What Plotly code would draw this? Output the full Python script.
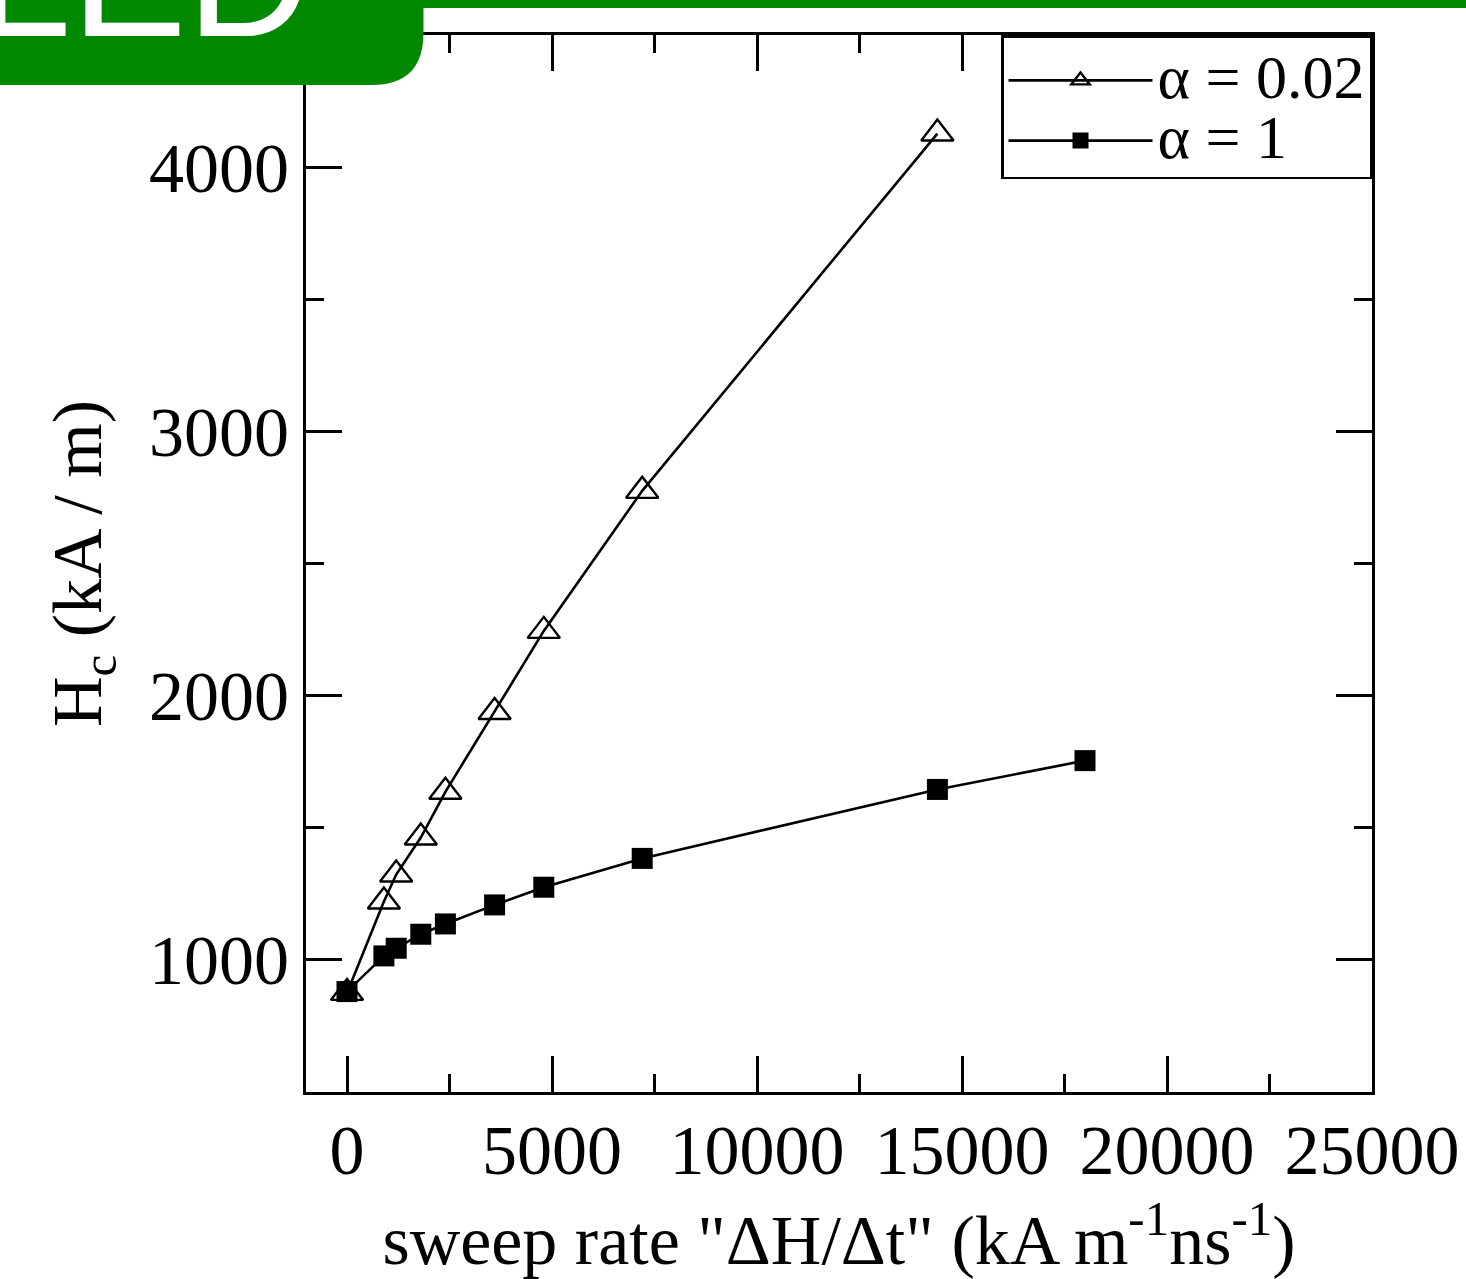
import plotly.graph_objects as go

# ---- data ----
rate_a002 = [0, 900, 1200, 1800, 2400, 3600, 4800, 7200, 14400]
hc_a002 = [875, 1221, 1323, 1463, 1636, 1938, 2245, 2775, 4127]

rate_a1 = [0, 900, 1200, 1800, 2400, 3600, 4800, 7200, 14400, 18000]
hc_a1 = [880, 1015, 1044, 1097, 1136, 1208, 1275, 1384, 1645, 1754]

x_tickvals = [0, 5000, 10000, 15000, 20000, 25000]
x_ticktext = ["0", "5000", "10000", "15000", "20000", "25000"]
y_tickvals = [1000, 2000, 3000, 4000]
y_ticktext = ["1000", "2000", "3000", "4000"]

series_names = ["\u03b1 = 0.02", "\u03b1 = 1"]

# ---- layout geometry (pixels) ----
W, H = 1466, 1279
L, R, T, B = 305.5, 1372, 35, 1092
pw, ph = R - L, B - T


def px(x):
    return (x - L) / pw


def py(y):
    return (B - y) / ph


FONT = "Liberation Serif"
GREEN = "#008800"
LEG_TEXT = '<span style="font-size:62px">{}</span>'

fig = go.Figure()
fig.add_trace(go.Scatter(
    x=rate_a002, y=hc_a002, mode="lines+markers",
    name=LEG_TEXT.format(series_names[0]),
    line=dict(color="black", width=2.6),
    marker=dict(symbol="triangle-up-open", size=28, color="black",
                line=dict(color="black", width=2.4)),
))
fig.add_trace(go.Scatter(
    x=rate_a1, y=hc_a1, mode="lines+markers",
    name=LEG_TEXT.format(series_names[1]),
    line=dict(color="black", width=2.6),
    marker=dict(symbol="square", size=21, color="black", line=dict(width=0)),
))

axis_common = dict(
    showline=True, linecolor="black", linewidth=2.8, mirror="allticks",
    ticks="inside", ticklen=36, tickwidth=2.6, tickcolor="black",
    showgrid=False, zeroline=False, automargin=False,
    tickfont=dict(family=FONT, size=70, color="black"),
    tickmode="array",
)

fig.update_xaxes(
    **axis_common,
    range=[-1000, 25000],
    tickvals=x_tickvals, ticktext=x_ticktext,
    minor=dict(ticks="inside", ticklen=18, tickwidth=2.6, tickcolor="black",
               dtick=2500, tick0=0, showgrid=False),
    ticklabelstandoff=-5,
    title=dict(text='sweep rate "\u0394H/\u0394t" (kA m<sup>-1</sup>ns<sup>-1</sup>)',
               font=dict(family=FONT, size=70, color="black"), standoff=35),
)
fig.update_yaxes(
    **axis_common,
    range=[500, 4500],
    tickvals=y_tickvals, ticktext=y_ticktext,
    minor=dict(ticks="inside", ticklen=18, tickwidth=2.6, tickcolor="black",
               dtick=500, tick0=0, showgrid=False),
    ticklabelstandoff=0,
    title=dict(text="H<sub>c</sub> (kA / m)",
               font=dict(family=FONT, size=70, color="black"), standoff=25),
)

# green header banner (partially cut off at the top of the image)
pts = [(-5, -5), (W + 5, -5), (W + 5, 8), (423, 8), (423, 33)]
path = "M{},{}".format(px(pts[0][0]), py(pts[0][1]))
for (a, b) in pts[1:]:
    path += " L{},{}".format(px(a), py(b))
path += " Q{},{} {},{}".format(px(423), py(85), px(371), py(85))
path += " L{},{} Z".format(px(-5), py(85))
fig.add_shape(type="path", path=path, xref="paper", yref="paper",
              fillcolor=GREEN, line=dict(width=0), layer="above")
fig.add_annotation(text="LED", xref="paper", yref="paper",
                   x=px(-28), y=py(37), xanchor="left", yanchor="bottom",
                   yshift=-38, showarrow=False,
                   font=dict(family="Liberation Sans", size=173, color="white"))

fig.update_layout(
    width=W, height=H,
    margin=dict(l=L, r=W - R, t=T, b=H - B, pad=0, autoexpand=False),
    paper_bgcolor="white", plot_bgcolor="white",
    showlegend=True,
    legend=dict(x=1, y=1, xanchor="right", yanchor="top",
                bgcolor="white", bordercolor="black", borderwidth=2.5,
                font=dict(family=FONT, size=44, color="black"),
                title=dict(text=" ", font=dict(size=6)),
                itemwidth=144, tracegroupgap=0),
)

fig.write_html("out.html",
               config={"displayModeBar": False},
               post_script="document.body.style.margin='0px';"
                           "document.body.style.overflow='hidden';")
